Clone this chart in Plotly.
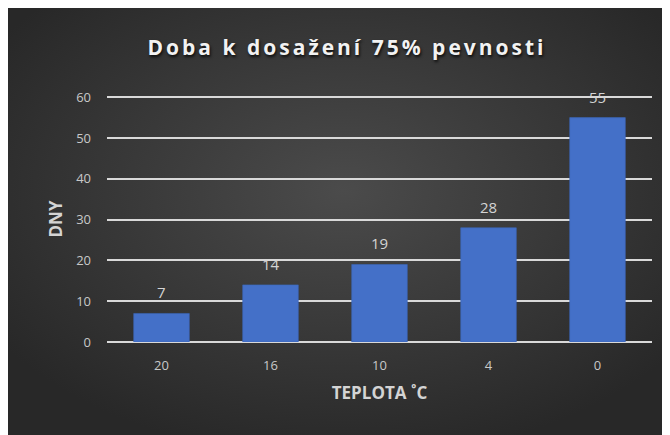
import base64
import plotly.graph_objects as go

categories = ["20", "16", "10", "4", "0"]
days = [7, 14, 19, 28, 55]
y_ticks = [0, 10, 20, 30, 40, 50, 60]

title_text = "Doba k dosažení 75% pevnosti"
x_title = "TEPLOTA ˚C"
y_title = "DNY"

W, H = 670, 435
L, R, T, B = 99, 26, 88, 101
pw, ph = W - L - R, H - T - B

svg = (
    '<svg xmlns="http://www.w3.org/2000/svg" width="670" height="435" viewBox="0 0 670 435" preserveAspectRatio="none">'
    '<defs><radialGradient id="g" cx="0.5" cy="0.42" r="0.62">'
    '<stop offset="0" stop-color="#4b4b4b"/><stop offset="1" stop-color="#282828"/>'
    '</radialGradient>'
    '<linearGradient id="b" x1="0" y1="0" x2="0" y2="1">'
    '</linearGradient></defs><rect width="670" height="435" fill="url(#g)"/></svg>'
)
bg_src = "data:image/svg+xml;base64," + base64.b64encode(svg.encode()).decode()

fig = go.Figure()
fig.add_trace(go.Bar(
    x=categories, y=days,
    marker=dict(color="#4470c8", line=dict(color="#3b66b8", width=0.6)),
    hoverinfo="x+y",
))

for i, v in enumerate(days):
    fig.add_annotation(x=i, y=v, text=str(v), showarrow=False, yshift=21,
                       yanchor="middle",
                       font=dict(family="Open Sans", size=15, color="#d4d4d4"))

fig.add_layout_image(dict(source=bg_src, xref="paper", yref="paper",
                          x=-L / pw, y=1 + T / ph, sizex=W / pw, sizey=H / ph,
                          xanchor="left", yanchor="top", sizing="stretch",
                          layer="below"))

fig.update_layout(
    width=W, height=H,
    margin=dict(l=L, r=R, t=T, b=B),
    paper_bgcolor="#333333",
    plot_bgcolor="rgba(0,0,0,0)",
    bargap=0.49,
    showlegend=False,
    title=dict(text='<span style="letter-spacing:3px">' + title_text + '</span>',
               x=0.506, xref="container", xanchor="center",
               y=1 - 40 / H, yref="container", yanchor="middle",
               font=dict(family="Open Sans", size=21, color="#f2f2f2", weight="bold",
                         shadow="1px 2px 3px rgba(0,0,0,0.8)")),
    xaxis=dict(type="category", showgrid=False, showline=False, ticks="",
               automargin=False,
               tickfont=dict(family="Open Sans", size=13, color="#c8c8c8"),
               ticklabelstandoff=14,
               title=dict(text=x_title, standoff=14,
                          font=dict(family="Open Sans", size=17, color="#d4d4d4", weight="bold"))),
    yaxis=dict(range=[0, 60.3], tickvals=y_ticks, showgrid=True, gridcolor="#d9d9d9",
               automargin=False,
               gridwidth=1.5, zeroline=True, zerolinecolor="#d9d9d9", zerolinewidth=1.5,
               showline=False, ticks="", ticklabelstandoff=15,
               tickfont=dict(family="Open Sans", size=13, color="#c8c8c8"),
               title=dict(text=y_title, standoff=9,
                          font=dict(family="Open Sans", size=17, color="#d4d4d4", weight="bold"))),
)

fig.write_html("out.html")
